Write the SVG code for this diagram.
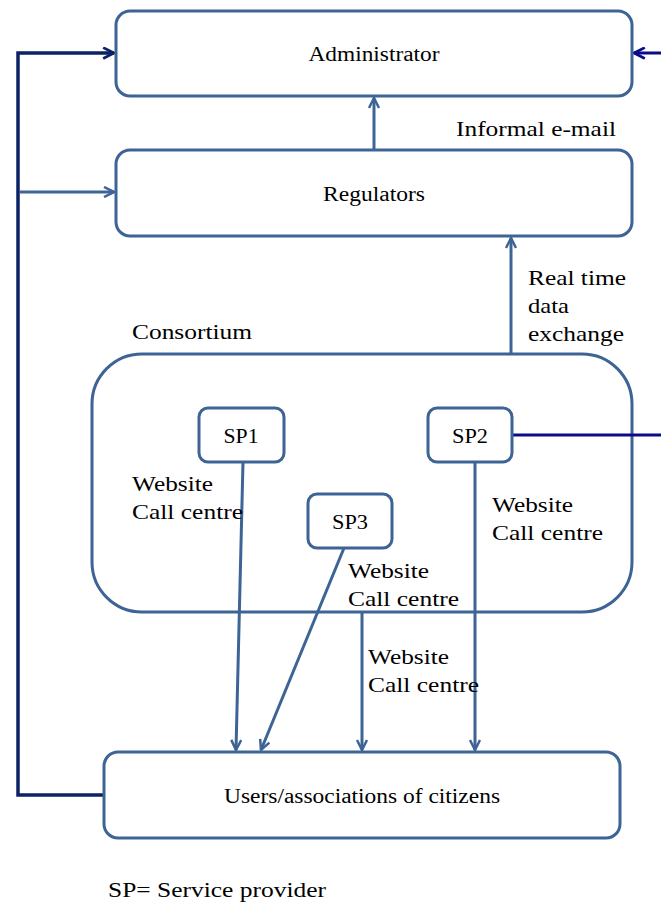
<svg xmlns="http://www.w3.org/2000/svg" width="661" height="905" viewBox="0 0 661 905" font-family="'Liberation Serif', 'Times New Roman', serif">
  <style>
    .box { fill: #ffffff; stroke: #3d6495; stroke-width: 3; }
    text { font-family: "Liberation Serif", "Times New Roman", serif; fill: #000000; }
    .node-lbl { font-size: 20px; text-anchor: middle; }
    .note { font-size: 22px; }
    .conn { fill: none; stroke: #3d6495; stroke-width: 3; }
    .navy { fill: none; stroke: #0b2366; stroke-width: 3.5; }
    .dark { fill: none; stroke: #0a0a8a; stroke-width: 3; }
  </style>
  <defs>
    <marker id="ah" viewBox="0 0 12 12" refX="11" refY="6" markerWidth="12" markerHeight="12" markerUnits="userSpaceOnUse" orient="auto">
      <path d="M1,1 L11,6 L1,11" fill="none" stroke="#3d6495" stroke-width="2.5"/>
    </marker>
    <marker id="ahNavy" viewBox="0 0 12 12" refX="11" refY="6" markerWidth="13" markerHeight="13" markerUnits="userSpaceOnUse" orient="auto">
      <path d="M1,1 L11,6 L1,11" fill="none" stroke="#0b2366" stroke-width="2.5"/>
    </marker>
    <marker id="ahDark" viewBox="0 0 12 12" refX="11" refY="6" markerWidth="13" markerHeight="13" markerUnits="userSpaceOnUse" orient="auto">
      <path d="M1,1 L11,6 L1,11" fill="none" stroke="#0a0a8a" stroke-width="2.5"/>
    </marker>
  </defs>

  <rect width="661" height="905" fill="#ffffff"/>

  <!-- consortium container -->
  <g id="consortium">
    <rect class="box" x="92" y="354" width="540" height="258" rx="50"/>
    <text class="note" x="132" y="339" textLength="120" lengthAdjust="spacingAndGlyphs">Consortium</text>
  </g>

  <g id="connectors">
    <!-- feedback loop from users on the left -->
    <polyline class="navy" points="104,795 18,795 18,53 114,53" marker-end="url(#ahNavy)"/>
    <line class="conn" x1="20" y1="192" x2="114" y2="192" marker-end="url(#ah)"/>
    <!-- external input to administrator -->
    <line class="dark" x1="661" y1="53" x2="634" y2="53" marker-end="url(#ahDark)"/>
    <!-- regulators to administrator -->
    <line class="conn" x1="374" y1="150" x2="374" y2="98" marker-end="url(#ah)"/>
    <!-- consortium to regulators -->
    <line class="conn" x1="511" y1="354" x2="511" y2="238" marker-end="url(#ah)"/>
    <!-- SP2 external link -->
    <line class="dark" x1="512" y1="435" x2="661" y2="435"/>
    <!-- service providers to users -->
    <line class="conn" x1="243" y1="462" x2="236" y2="750" marker-end="url(#ah)"/>
    <line class="conn" x1="344" y1="548" x2="261" y2="750" marker-end="url(#ah)"/>
    <line class="conn" x1="362" y1="612" x2="362" y2="750" marker-end="url(#ah)"/>
    <line class="conn" x1="475" y1="462" x2="475" y2="750" marker-end="url(#ah)"/>
  </g>

  <g id="administrator">
    <rect class="box" x="116" y="11" width="516" height="85" rx="14"/>
    <text class="node-lbl" x="374" y="61" textLength="131" lengthAdjust="spacingAndGlyphs">Administrator</text>
  </g>

  <g id="regulators">
    <rect class="box" x="116" y="150" width="516" height="86" rx="14"/>
    <text class="node-lbl" x="374" y="201" textLength="102" lengthAdjust="spacingAndGlyphs">Regulators</text>
  </g>

  <g id="sp1">
    <rect class="box" x="199" y="408" width="85" height="54" rx="9"/>
    <text class="node-lbl" x="241" y="443" textLength="35" lengthAdjust="spacingAndGlyphs">SP1</text>
  </g>

  <g id="sp2">
    <rect class="box" x="428" y="408" width="84" height="54" rx="9"/>
    <text class="node-lbl" x="470" y="443" textLength="36" lengthAdjust="spacingAndGlyphs">SP2</text>
  </g>

  <g id="sp3">
    <rect class="box" x="308" y="494" width="84" height="54" rx="9"/>
    <text class="node-lbl" x="350" y="529" textLength="36" lengthAdjust="spacingAndGlyphs">SP3</text>
  </g>

  <g id="users">
    <rect class="box" x="104" y="752" width="516" height="86" rx="14"/>
    <text class="node-lbl" x="362" y="803" textLength="276" lengthAdjust="spacingAndGlyphs">Users/associations of citizens</text>
  </g>

  <!-- connector labels -->
  <g id="labels">
    <text class="note" x="456" y="136" textLength="160" lengthAdjust="spacingAndGlyphs">Informal e-mail</text>
    <text class="note" x="528" y="285" textLength="98" lengthAdjust="spacingAndGlyphs">Real time</text>
    <text class="note" x="528" y="313" textLength="41" lengthAdjust="spacingAndGlyphs">data</text>
    <text class="note" x="528" y="341" textLength="96" lengthAdjust="spacingAndGlyphs">exchange</text>
    <text class="note" x="132" y="491" textLength="81" lengthAdjust="spacingAndGlyphs">Website</text>
    <text class="note" x="132" y="519" textLength="111" lengthAdjust="spacingAndGlyphs">Call centre</text>
    <text class="note" x="492" y="512" textLength="81" lengthAdjust="spacingAndGlyphs">Website</text>
    <text class="note" x="492" y="540" textLength="111" lengthAdjust="spacingAndGlyphs">Call centre</text>
    <text class="note" x="348" y="578" textLength="81" lengthAdjust="spacingAndGlyphs">Website</text>
    <text class="note" x="348" y="606" textLength="111" lengthAdjust="spacingAndGlyphs">Call centre</text>
    <text class="note" x="368" y="664" textLength="81" lengthAdjust="spacingAndGlyphs">Website</text>
    <text class="note" x="368" y="692" textLength="111" lengthAdjust="spacingAndGlyphs">Call centre</text>
    <text x="108" y="897" font-size="21" textLength="218" lengthAdjust="spacingAndGlyphs">SP= Service provider</text>
  </g>
</svg>
